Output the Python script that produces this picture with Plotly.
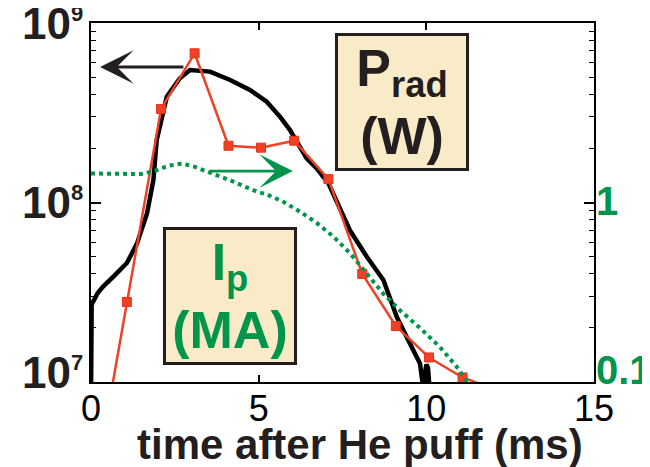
import math
import plotly.graph_objects as go

# ---- data ----
# Prad (W) measured trace (black)
t_prad = [0.0, 0.02, 0.2, 0.36, 0.66, 1.07, 1.37, 1.67, 1.86, 1.96, 2.26, 2.65, 2.95,
          3.55, 4.15, 4.74, 5.24, 5.64, 5.93, 6.13, 6.43, 6.73, 7.08, 7.72, 8.22, 8.72,
          9.12, 9.51, 9.81, 9.9, 10.0, 10.05, 10.12]
prad = [8e6, 2.7e7, 3.13e7, 3.4e7, 3.85e7, 4.6e7, 5.9e7, 8.7e7, 1.33e8, 2.23e8, 3.88e8,
        4.92e8, 5.47e8, 5.36e8, 4.81e8, 4.24e8, 3.64e8, 3.0e8, 2.54e8, 2.18e8, 1.76e8,
        1.55e8, 1.28e8, 7.0e7, 5.0e7, 3.7e7, 2.3e7, 1.64e7, 1.27e7, 9.5e6, 1.25e7,
        1.2e7, 8e6]

# Prad (W) model (red squares)
t_model = [0.07, 1.07, 2.09, 3.09, 4.10, 5.07, 6.06, 7.08, 8.09, 9.09, 10.08, 11.08, 12.1]
p_model = [2.4e6, 2.79e7, 3.32e8, 6.78e8, 2.07e8, 2.02e8, 2.21e8, 1.35e8, 4.0e7,
           2.05e7, 1.37e7, 1.06e7, 9.0e6]

# Ip (MA), right axis (green dotted)
t_ip = [0.0, 0.5, 1.0, 1.5, 1.9, 2.3, 2.7, 3.1, 3.45, 4.15, 4.94, 5.24, 5.73, 6.23,
        6.73, 7.23, 7.73, 8.22, 8.72, 9.22, 9.81, 10.4, 10.9, 11.25]
ip = [1.45, 1.45, 1.44, 1.44, 1.5, 1.6, 1.65, 1.58, 1.49, 1.33, 1.15, 1.11, 1.01, 0.89,
      0.77, 0.645, 0.52, 0.40, 0.31, 0.25, 0.20, 0.157, 0.122, 0.098]

x_ticks = [0, 5, 10, 15]
y_left_ticks = [1e7, 1e8, 1e9]
y_left_exp = ["7", "8", "9"]
y_right_ticks = [0.1, 1]
y_right_text = ["0.1", "1"]
y_minor_left = [m * 10 ** e for e in (7, 8) for m in range(2, 10)]
y_minor_right = [m * 10 ** e for e in (-1, 0) for m in range(2, 10)]

FONT = "Liberation Sans, Arial, sans-serif"
BLACK = "#231f20"
RED = "#ee4126"
GREEN = "#00954a"
BOX = "#faebc8"

fig = go.Figure()
fig.add_trace(go.Scatter(x=t_prad, y=prad, mode="lines",
                         line=dict(color="black", width=4.5), yaxis="y"))
fig.add_trace(go.Scatter(x=t_model, y=p_model, mode="lines+markers",
                         line=dict(color=RED, width=2.5),
                         marker=dict(symbol="square", size=9, color=RED,
                                     line=dict(color="#e8331c", width=1)),
                         yaxis="y"))
fig.add_trace(go.Scatter(x=t_ip, y=ip, mode="lines",
                         line=dict(color=GREEN, width=4, dash="dot"), yaxis="y2"))

ax_common = dict(showline=True, linecolor="black", linewidth=1.5, showgrid=False,
                 zeroline=False, ticks="inside", tickcolor="black", tickwidth=1.5)

# the page body adds an 8 px offset; the figure is sized to fill the rest
fig.update_layout(
    width=642, height=459,
    margin=dict(l=83, r=56, t=15, b=85),
    paper_bgcolor="white", plot_bgcolor="white",
    showlegend=False,
    font=dict(family=FONT, color=BLACK),
    xaxis=dict(range=[0, 15], tickvals=x_ticks, ticklen=7, mirror="ticks",
               ticklabelstandoff=-6,
               tickfont=dict(size=36, family=FONT, color="black"), **ax_common),
    yaxis=dict(type="log", range=[7, 9], tickvals=y_left_ticks, ticklen=10,
               showticklabels=False,
               minor=dict(tickvals=y_minor_left, ticks="inside", ticklen=5,
                          tickcolor="black", tickwidth=1.2, showgrid=False),
               **ax_common),
    yaxis2=dict(type="log", range=[-1, 1], overlaying="y", side="right",
                tickvals=y_right_ticks, ticklen=10, showticklabels=False,
                minor=dict(tickvals=y_minor_right, ticks="inside", ticklen=5,
                           tickcolor="black", tickwidth=1.2, showgrid=False),
                **ax_common),
)

ann = []
# left tick labels
for v, e in zip(y_left_ticks, y_left_exp):
    txt = "10<sup><span style='font-size:22px'>%s</span></sup>" % e
    ann.append(dict(xref="paper", yref="y", x=0, y=math.log10(v), text=txt,
                    showarrow=False, xanchor="right", yanchor="middle", xshift=-6,
                    yshift=(10 if v == 1e7 else 0),
                    font=dict(size=44, family=FONT, color=BLACK, weight="bold")))
# right tick labels
for v, txt in zip(y_right_ticks, y_right_text):
    ann.append(dict(xref="paper", yref="y2", x=1, y=math.log10(v), text=txt,
                    showarrow=False, xanchor="left", yanchor="middle", xshift=0,
                    yshift=(12 if v == 0.1 else 2),
                    font=dict(size=40, family=FONT, color=GREEN, weight="bold")))
# x-axis title
ann.append(dict(xref="paper", yref="paper", x=0.535, y=0, yanchor="middle", yshift=-62,
                text="time after He puff (ms)", showarrow=False,
                font=dict(size=42, family=FONT, color=BLACK, weight="bold")))
# label boxes
ann.append(dict(xref="x", yref="y", x=9.28, y=8.56, showarrow=False,
                text="P<sub>rad</sub><br>(W)", width=128, height=132,
                bgcolor=BOX, bordercolor=BLACK, borderwidth=3, borderpad=0,
                font=dict(size=52, family=FONT, color=BLACK, weight="bold")))
ann.append(dict(xref="x", yref="y", x=4.15, y=7.479, showarrow=False,
                text="I<sub>p</sub><br>(MA)", width=128, height=132,
                bgcolor=BOX, bordercolor=BLACK, borderwidth=3, borderpad=0,
                font=dict(size=52, family=FONT, color=GREEN, weight="bold")))
# arrows
ann.append(dict(xref="x", yref="y", axref="x", ayref="y",
                x=0.27, y=8.755, ax=2.8, ay=8.755, text="", showarrow=True,
                arrowhead=3, arrowsize=2, arrowwidth=2.8, arrowcolor=BLACK))
ann.append(dict(xref="x", yref="y2", axref="x", ayref="y2",
                x=6.02, y=0.175, ax=3.49, ay=0.175, text="", showarrow=True,
                arrowhead=3, arrowsize=2, arrowwidth=2.8, arrowcolor=GREEN))
fig.update_layout(annotations=ann)

fig.write_html("out.html")
